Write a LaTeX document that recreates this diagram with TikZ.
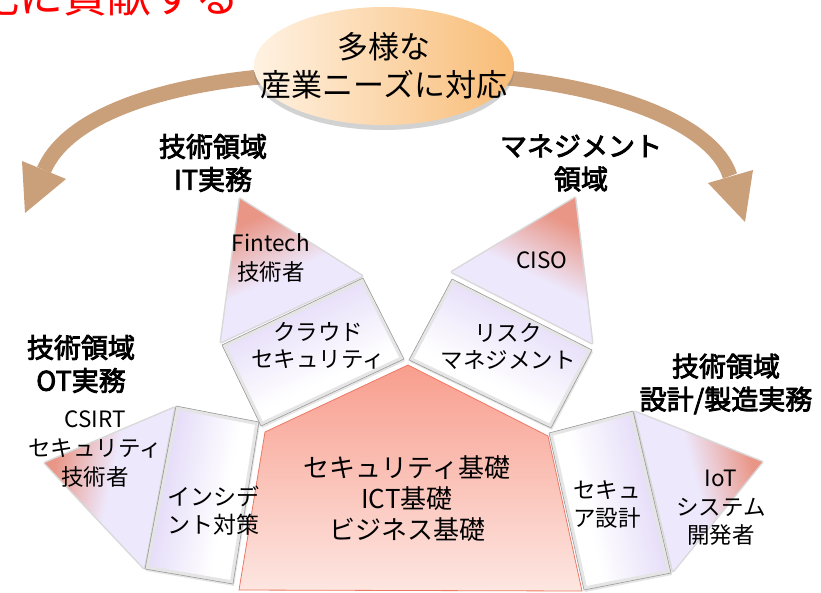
\documentclass[tikz,border=0pt]{standalone}
\usepackage{fontspec}
\setmainfont{Noto Sans CJK JP}
\newfontfamily\lblfont[FakeBold=3]{Noto Sans CJK JP}
\usetikzlibrary{shadows,shapes.geometric}
\definecolor{salm}{RGB}{233,150,135}
\definecolor{lav}{RGB}{237,232,252}
\definecolor{lavb}{RGB}{226,216,248}
\definecolor{pentT}{RGB}{248,158,142}
\definecolor{pentB}{RGB}{253,230,225}
\definecolor{pentE}{RGB}{238,120,100}
\definecolor{brn}{RGB}{202,160,122}
\definecolor{ellL}{RGB}{255,242,226}
\definecolor{ellR}{RGB}{248,188,118}
\pgfdeclarehorizontalshading{trishade}{100bp}{color(0bp)=(salm); color(28bp)=(salm); color(50bp)=(lav); color(100bp)=(lav)}
\pgfdeclarehorizontalshading{trapshade}{100bp}{color(0bp)=(lavb); color(30bp)=(lavb); color(60bp)=(white); color(100bp)=(white)}
\newcommand\mytrap[2]{%
  \path[drop shadow={opacity=.2,shadow xshift=1pt,shadow yshift=-2pt}, shade, shading=trapshade, shading angle=#1] #2 -- cycle;
  \begin{scope}\clip #2 -- cycle;
    \draw[line width=7pt, draw=black!10, line join=round] #2 -- cycle;
  \end{scope}
  \draw[black!40, line width=.6pt, line join=round] #2 -- cycle;
}
\tikzset{
  lbl/.style={align=center, font=\lblfont\fontsize{27}{33}\selectfont, inner sep=0pt},
  inner/.style={align=center, font=\fontsize{22.5}{29}\selectfont, inner sep=0pt},
  tri/.style={shade, shading=trishade, preaction={draw=black, draw opacity=.15, line width=3pt, line join=round}},
  arcline/.style={draw=brn, line width=15pt},
  head/.style={fill=brn},
}
\begin{document}
\begin{tikzpicture}[x=1pt,y=-1pt]
\useasboundingbox (0,0) rectangle (821,592);
\clip (0,0) rectangle (821,592);
\fill[white] (0,0) rectangle (821,592);

% red heading (cut at top)
\node[anchor=base east, text=red, font=\fontsize{44}{44}\selectfont, inner sep=0pt] (redtx) at (240,12) {化に貢献する};

% arcs
\coordinate (arcLs) at (300,74);
\coordinate (arcLe) at (44,170);
\coordinate (arcRs) at (470,75);
\coordinate (arcRe) at (730,176);
\draw[arcline] (arcLs) .. controls (180,80) and (70,110) .. (arcLe);
\draw[arcline] (arcRs) .. controls (600,82) and (712,120) .. (arcRe);
\fill[head] (22,161) -- (25,213) -- (66,179) -- cycle;
\fill[head] (708,183) -- (745,222) -- (753,170) -- cycle;

% ellipse
\node[ellipse, minimum width=260pt, minimum height=118pt, inner sep=0pt,
      left color=ellL, right color=ellR,
      drop shadow={opacity=.35, shadow xshift=0pt, shadow yshift=-5pt}] (ell) at (384,66) {};
\node[align=center, font=\fontsize{31}{38}\selectfont, inner sep=0pt] (elltx) at (ell.center) {多様な\\産業ニーズに対応};

% labels
\node[lbl] (itlbl) at (213,163) {技術領域\\IT実務};
\node[lbl] (mglbl) at (581,163) {マネジメント\\領域};
\node[lbl] (otlbl) at (81,364) {技術領域\\OT実務};
\node[lbl] (dslbl) at (726,384) {技術領域\\設計/製造実務};

% triangles
\path[tri, shading angle=-65] (240,199) -- (362,276) -- (221,342) -- cycle;
\path[tri, shading angle=244] (575,198) -- (592,343) -- (452,272) -- cycle;
\path[tri, shading angle=-12] (45,463) -- (174,408) -- (144,568) -- cycle;
\path[tri, shading angle=195] (762,462) -- (673,571) -- (635,412) -- cycle;

% trapezoids
\mytrap{-65}{(222,345) -- (363,278) -- (404,359) -- (261,426)}
\mytrap{-117}{(452,279) -- (592,350) -- (551,428) -- (409,360)}
\mytrap{-11}{(176,406) -- (259,422) -- (233,584) -- (145,569)}
\mytrap{193}{(549,433) -- (633,411) -- (671,573) -- (584,590)}

% pentagon
\path[shade, top color=pentT, bottom color=pentB, draw=pentE, line width=.8pt, line join=round]
  (408,365) -- (265,432) -- (239,590) -- (582,591) -- (548,436) -- cycle;

% inner texts
\node[inner, font=\fontsize{22.5}{29}\selectfont] (fin) at (271,258) {Fintech\\技術者};
\node[inner] (ciso) at (542,260) {CISO};
\node[inner, font=\fontsize{22.5}{27}\selectfont] (cloud) at (318,346) {クラウド\\セキュリティ};
\node[inner, font=\fontsize{22.5}{27}\selectfont] (risk) at (508,346) {リスク\\マネジメント};
\node[inner] (csirt) at (95,449) {CSIRT\\セキュリティ\\技術者};
\node[inner, align=left, font=\fontsize{23}{28}\selectfont] (inc) at (213,511) {インシデ\\ント対策};
\node[inner, font=\fontsize{26}{31}\selectfont] (base) at (407,499) {セキュリティ基礎\\ICT基礎\\ビジネス基礎};
\node[inner, align=left, font=\fontsize{22.5}{28}\selectfont] (sec) at (607,504) {セキュ\\ア設計};
\node[inner, font=\fontsize{22.5}{28.5}\selectfont] (iot) at (721,508) {IoT\\システム\\開発者};
\end{tikzpicture}
\end{document}
